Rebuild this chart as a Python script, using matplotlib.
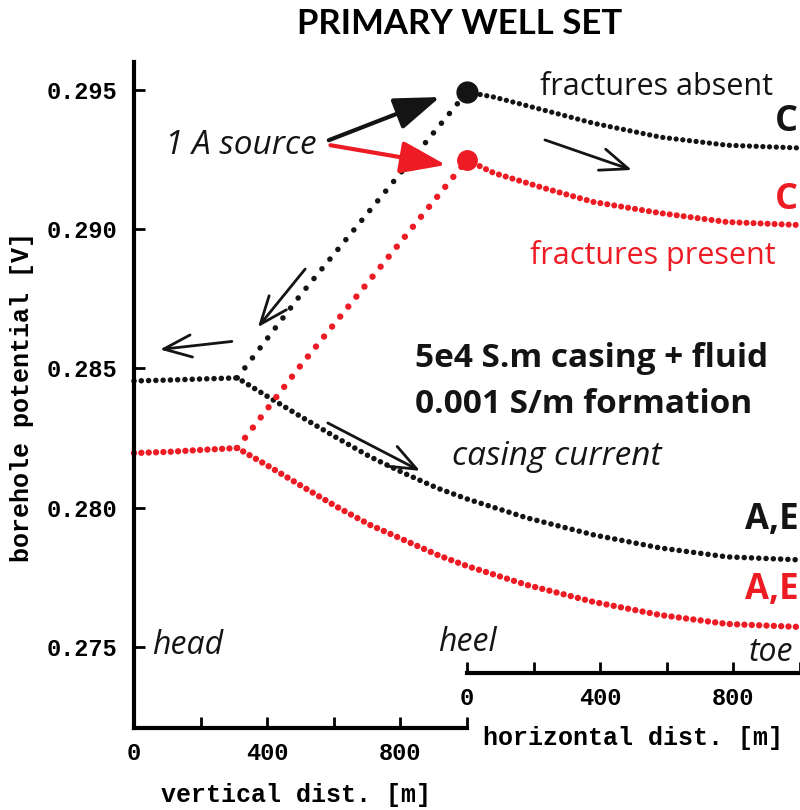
import matplotlib
matplotlib.use("Agg")
import matplotlib.pyplot as plt

# distance along the well [m]: 0-1000 vertical section, 1000-2000 horizontal section
ae_dist = [0, 100, 200, 310, 408, 508, 610, 710, 810, 911, 1000, 1180, 1380, 1580, 1780, 2000]
ae_absent = [0.28455, 0.28458, 0.28462, 0.28466, 0.28394, 0.28322, 0.28250, 0.28182,
             0.28124, 0.28070, 0.28031, 0.27963, 0.27902, 0.27855, 0.27823, 0.27812]
ae_present = [0.28196, 0.28200, 0.28207, 0.28214, 0.28146, 0.28074, 0.28002, 0.27937,
              0.27884, 0.27830, 0.27790, 0.27722, 0.27661, 0.27614, 0.27582, 0.27571]

# well C climbing to the source at the heel
rise_dist = [310, 500, 1000]
rise_absent = [0.28466, 0.28764, 0.29493]
rise_present = [0.28214, 0.28510, 0.29249]

# well C along the horizontal section [m]
c_horiz = [0, 81, 231, 380, 581, 781, 1000]
c_absent = [0.29493, 0.29475, 0.29428, 0.29381, 0.29331, 0.29302, 0.29292]
c_present = [0.29249, 0.29202, 0.29148, 0.29098, 0.29058, 0.29026, 0.29015]

y_ticks = [0.275, 0.280, 0.285, 0.290, 0.295]
v_ticks = [0, 200, 400, 600, 800, 1000]
h_ticks = [0, 200, 400, 600, 800, 1000]
tick_labels = ["0", "", "400", "", "800", ""]

BLACK = "#141414"
RED = "#ED1C24"

plt.rcParams["font.family"] = ["Liberation Mono", "DejaVu Sans Mono"]
plt.rcParams["font.weight"] = "bold"
ann = ["Open Sans", "DejaVu Sans"]

fig = plt.figure(figsize=(8, 8.1), dpi=100)
ax = fig.add_axes([134 / 800, 1 - 728 / 810, 666 / 800, 666 / 810])
ax.set_xlim(0, 2000)
ax.set_ylim(0.27208, 0.29601)


def dotted(x, y, color, lw, gap):
    ax.plot(x, y, color=color, lw=lw, linestyle=(0, (0.01, gap)),
            dash_capstyle="round", clip_on=False)


c_dist = [1000 + h for h in c_horiz]
dotted(ae_dist, ae_absent, BLACK, 4.0, 1.3)
dotted(ae_dist, ae_present, RED, 4.6, 1.14)
dotted(rise_dist, rise_absent, BLACK, 4.0, 2.25)
dotted(rise_dist, rise_present, RED, 4.6, 2.0)
dotted(c_dist, c_absent, BLACK, 3.8, 1.26)
dotted(c_dist, c_present, RED, 4.4, 1.14)
ax.plot(rise_dist[-1], rise_absent[-1], "o", ms=15, color=BLACK)
ax.plot(rise_dist[-1], rise_present[-1], "o", ms=14, color=RED)

# axes
for s in ["top", "right"]:
    ax.spines[s].set_visible(False)
ax.spines["left"].set_linewidth(3)
ax.spines["bottom"].set_linewidth(3)
ax.spines["bottom"].set_bounds(0, 1000)
ax.set_yticks(y_ticks, [f"{t:.3f}" for t in y_ticks])
ax.set_xticks(v_ticks, tick_labels)
ax.tick_params(direction="in", length=8, width=2, labelsize=17)
ax.tick_params(axis="y", pad=12)
ax.tick_params(axis="x", pad=10)

sec = ax.secondary_xaxis(55 / 666, functions=(lambda d: d - 1000, lambda h: h + 1000))
sec.spines["bottom"].set_linewidth(3)
sec.spines["bottom"].set_bounds(0, 1000)
sec.set_xticks(h_ticks, tick_labels)
sec.tick_params(direction="in", length=8, width=2, labelsize=17, pad=10)

fig.text(22 / 800, 1 - 397 / 810, "borehole potential [V]", rotation=90,
         ha="center", va="center", fontsize=18)
fig.text(296 / 800, 1 - 795 / 810, "vertical dist. [m]", ha="center", va="center", fontsize=18)
fig.text(633 / 800, 1 - 738 / 810, "horizontal dist. [m]", ha="center", va="center", fontsize=18)
fig.text(460 / 800, 1 - 24 / 810, "PRIMARY WELL SET", ha="center", va="center",
         fontsize=25, family=["Liberation Sans Narrow", "Lato"], weight="bold")

# annotations
def label(x, y, s, color=BLACK, size=22, ha="left", **kw):
    ax.text(x, y, s, color=color, fontsize=size, ha=ha, va="center", family=ann, **kw)


label(93, 0.29302, "1 A source", size=24, style="italic", weight="normal")
label(1219, 0.29511, "fractures absent", weight="normal")
label(1189, 0.28907, "fractures present", color=RED, weight="normal")
label(1995, 0.29385, "C", size=26, ha="right", weight="bold")
label(1995, 0.29105, "C", color=RED, size=26, ha="right", weight="bold")
label(844, 0.28537, "5e4 S.m casing + fluid", size=24, weight="bold")
label(844, 0.28369, "0.001 S/m formation", size=24, weight="bold")
label(955, 0.28182, "casing current", size=24, style="italic", weight="normal")
label(1995, 0.27955, "A,E", size=25, ha="right", weight="bold")
label(1995, 0.27704, "A,E", color=RED, size=25, ha="right", weight="bold")
label(54, 0.27506, "head", size=23, style="italic", weight="normal")
label(913, 0.27517, "heel", size=23, style="italic", weight="normal")
label(1979, 0.27481, "toe", size=23, style="italic", weight="normal", ha="right")


def arrow(start, tip, color=BLACK, lw=2.0, style="->,head_length=1.0,head_width=0.4", ms=20):
    ax.annotate("", xy=tip, xytext=start,
                arrowprops=dict(arrowstyle=style, color=color, lw=lw,
                                shrinkA=0, shrinkB=0, mutation_scale=ms))


filled = "-|>,head_length=1.4,head_width=0.5"
arrow((585, 0.29320), (919, 0.29475), lw=3, style=filled)
arrow((590, 0.29302), (937, 0.29231), color=RED, lw=3, style=filled)
arrow((1234, 0.29321), (1495, 0.29213))
arrow((514, 0.28857), (372, 0.28648))
arrow((294, 0.28597), (78, 0.28568))
arrow((582, 0.28304), (859, 0.28132))

fig.savefig("out.png", dpi=100)
